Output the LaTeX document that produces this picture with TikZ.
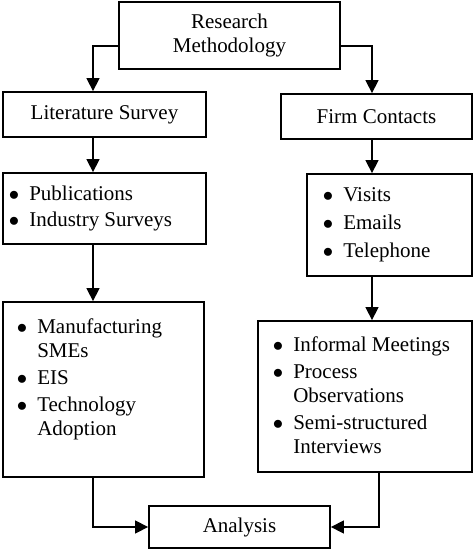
\documentclass[tikz,border=0pt]{standalone}
\usepackage{fontspec}
\setmainfont{Liberation Serif}
\usetikzlibrary{calc,arrows.meta}

\newcommand{\blt}{$\bullet$}

\begin{document}
\begin{tikzpicture}[x=1pt,y=-1pt,
        every node/.style={font=\fontsize{21}{24}\selectfont},
        box/.style={draw,line width=1.8pt,inner sep=0pt,align=center},
        list/.style={inner sep=0pt},
        arr/.style={line width=1.4pt,-{Triangle[width=13pt,length=13pt]}}]
        \useasboundingbox (0,0) rectangle (474,550);
        % boxes
        \node[box,minimum width=221pt,minimum height=67pt] (rm) at (229.5,35.5) {Research\\Methodology};
        \node[box,minimum width=203pt,minimum height=45pt] (lit) at (104.5,114.5) {Literature Survey};
        \node[box,minimum width=191pt,minimum height=45pt] (firm) at (376.5,116.5) {Firm Contacts};
        \node[box,minimum width=203pt,minimum height=71pt] (pubs) at (104.5,208.5) {};
        \node[box,minimum width=165pt,minimum height=102pt] (visits) at (389.5,225) {};
        \node[box,minimum width=201pt,minimum height=175pt] (smes) at (103.5,389.5) {};
        \node[box,minimum width=214pt,minimum height=151pt] (meets) at (365,396.5) {};
        \node[box,minimum width=181pt,minimum height=42pt] (analysis) at (239.5,527) {Analysis};
        % lists
        \node[list,anchor=west] (pubslist) at ([xshift=6.6pt]pubs.west)
            {\begin{tabular}{@{}c@{\hspace{10pt}}l@{}}
            \blt & Publications\\[2pt]
            \blt & Industry Surveys
            \end{tabular}};
        \node[list,anchor=west] (visitslist) at ([xshift=16.6pt]visits.west)
            {\begin{tabular}{@{}c@{\hspace{10pt}}l@{}}
            \blt & Visits\\[4pt]
            \blt & Emails\\[4pt]
            \blt & Telephone
            \end{tabular}};
        \node[list,anchor=north west] (smeslist) at ([shift={(14.6pt,-15pt)}]smes.north west)
            {\begin{tabular}{@{}c@{\hspace{10pt}}l@{}}
            \blt & Manufacturing\\
                 & SMEs\\[3pt]
            \blt & EIS\\[3pt]
            \blt & Technology\\
                 & Adoption
            \end{tabular}};
        \node[list,anchor=north west] (meetslist) at ([shift={(15.6pt,-14pt)}]meets.north west)
            {\begin{tabular}{@{}c@{\hspace{10pt}}l@{}}
            \blt & Informal Meetings\\[3pt]
            \blt & Process\\
                 & Observations\\[3pt]
            \blt & Semi-structured\\
                 & Interviews
            \end{tabular}};
        % connectors
        \coordinate (lx) at (93,0);
        \coordinate (rx) at (372,0);
        \coordinate (rx2) at (379,0);
        \draw[arr] ([yshift=-10.5pt]rm.west) -| (lx |- lit.north);
        \draw[arr] ([yshift=-10.5pt]rm.east) -| (rx |- firm.north);
        \draw[arr] (lx |- lit.south) -- (lx |- pubs.north);
        \draw[arr] (lx |- pubs.south) -- (lx |- smes.north);
        \draw[arr] (rx |- firm.south) -- (rx |- visits.north);
        \draw[arr] (rx |- visits.south) -- (rx |- meets.north);
        \draw[arr] (lx |- smes.south) |- (analysis.west);
        \draw[arr] (rx2 |- meets.south) |- (analysis.east);
    \end{tikzpicture}
\end{document}
